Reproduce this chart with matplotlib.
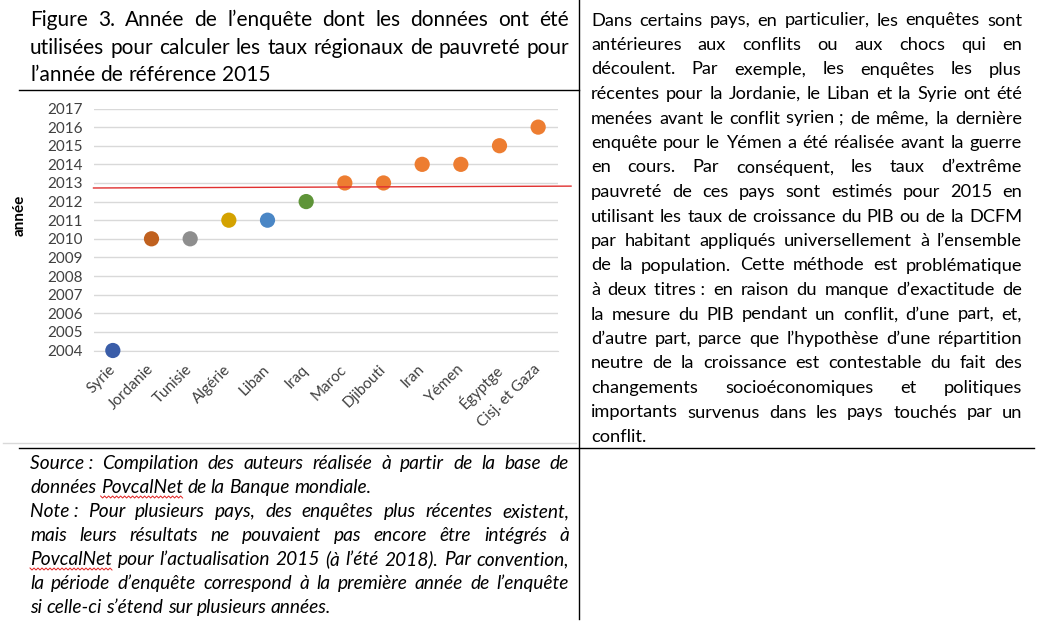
import numpy as np
import matplotlib
matplotlib.use('Agg')
import matplotlib.pyplot as plt
from matplotlib.lines import Line2D

# chart data
countries = ['Syrie', 'Jordanie', 'Tunisie', 'Algérie', 'Liban', 'Iraq', 'Maroc',
             'Djibouti', 'Iran', 'Yémen', 'Égyptge', 'Cisj. et Gaza']
years = [2004, 2010, 2010, 2011, 2011, 2012, 2013, 2013, 2014, 2014, 2015, 2016]
colors = ['#3A5DA8', '#C0611F', '#8E8E8E', '#D4A200', '#4A86C5', '#5E9438',
          '#ED7D31', '#ED7D31', '#ED7D31', '#ED7D31', '#ED7D31', '#ED7D31']
ref_line = [2012.73, 2012.83]

title_lines = ["Figure 3. Année de l’enquête dont les données ont été",
               "utilisées pour calculer les taux régionaux de pauvreté pour",
               "l’année de référence 2015"]
title_last = [False, False, True]

right_lines = ["Dans certains pays, en particulier, les enquêtes sont",
               "antérieures aux conflits ou aux chocs qui en",
               "découlent. Par exemple, les enquêtes les plus",
               "récentes pour la Jordanie, le Liban et la Syrie ont été",
               "menées avant le conflit syrien\u00a0; de même, la dernière",
               "enquête pour le Yémen a été réalisée avant la guerre",
               "en cours. Par conséquent, les taux d’extrême",
               "pauvreté de ces pays sont estimés pour 2015 en",
               "utilisant les taux de croissance du PIB ou de la DCFM",
               "par habitant appliqués universellement à l’ensemble",
               "de la population. Cette méthode est problématique",
               "à deux titres\u00a0: en raison du manque d’exactitude de",
               "la mesure du PIB pendant un conflit, d’une part, et,",
               "d’autre part, parce que l’hypothèse d’une répartition",
               "neutre de la croissance est contestable du fait des",
               "changements socioéconomiques et politiques",
               "importants survenus dans les pays touchés par un",
               "conflit."]
right_last = [False] * 17 + [True]

note_lines = ["Source\u00a0: Compilation des auteurs réalisée à partir de la base de",
              "données PovcalNet de la Banque mondiale.",
              "Note\u00a0: Pour plusieurs pays, des enquêtes plus récentes existent,",
              "mais leurs résultats ne pouvaient pas encore être intégrés à",
              "PovcalNet pour l’actualisation 2015 (à l’été 2018). Par convention,",
              "la période d’enquête correspond à la première année de l’enquête",
              "si celle-ci s’étend sur plusieurs années."]
note_last = [False, True, False, False, False, False, True]

W, H = 1039, 636
fig = plt.figure(figsize=(W / 100, H / 100), dpi=100)
renderer = fig.canvas.get_renderer()
FONT = 'Lato'


def fx(x):
    return x / W


def fy(y):
    return 1 - y / H


def hline(x0, x1, y, color='black', lw=1.0):
    fig.add_artist(Line2D([fx(x0), fx(x1)], [fy(y), fy(y)], color=color, lw=lw,
                          transform=fig.transFigure))


def vline(x, y0, y1, color='black', lw=1.0):
    fig.add_artist(Line2D([fx(x), fx(x)], [fy(y0), fy(y1)], color=color, lw=lw,
                          transform=fig.transFigure))


def text_width(s, size, style):
    t = fig.text(0, 0, s.replace('\u00a0', ' '), fontsize=size, family=FONT, style=style)
    w = t.get_window_extent(renderer).width
    t.remove()
    return w


def fit_size(lines, last, x0, x1, base, style):
    worst = max(text_width(l, base, style) for l, e in zip(lines, last) if not e)
    return base * 0.985 * (x1 - x0) / worst


def paragraph(lines, last, x0, x1, y0, step, size, style='normal'):
    # justified block: words spread to fill x0..x1, last line left-aligned
    placed = []
    space = text_width('a a', size, style) - text_width('aa', size, style)
    for i, (line, end) in enumerate(zip(lines, last)):
        yb = y0 + i * step
        words = line.split(' ')
        texts = [fig.text(0, fy(yb), w.replace('\u00a0', ' '), fontsize=size,
                          family=FONT, style=style, va='baseline', ha='left',
                          color='black') for w in words]
        widths = [t.get_window_extent(renderer).width for t in texts]
        if end or len(words) == 1:
            gap = space
        else:
            gap = (x1 - x0 - sum(widths)) / (len(words) - 1)
        x = x0
        for t, w, word in zip(texts, widths, words):
            t.set_x(fx(x))
            placed.append((word, x, x + w, yb))
            x += w + gap
    return placed


def squiggle(xa, xb, yb):
    xs = np.arange(xa, xb + 0.1, 2.0)
    ys = yb + 4 + np.where(np.arange(len(xs)) % 2 == 0, -1.0, 1.0)
    fig.add_artist(Line2D(fx(xs), fy(ys), color='#E02020', lw=0.7,
                          transform=fig.transFigure))


# title
ts = fit_size(title_lines, title_last, 30, 569, 12, 'normal')
paragraph(title_lines, title_last, 30, 569, 26, 27.5, ts)

# right column text
rs = fit_size(right_lines, right_last, 591, 1022, 11, 'normal')
paragraph(right_lines, right_last, 591, 1022, 25.5, 24.5, rs)

# notes
ns = fit_size(note_lines, note_last, 30, 569, 11, 'italic')
placed = paragraph(note_lines, note_last, 30, 569, 469, 24, ns, 'italic')
for word, xa, xb, yb in placed:
    if word == 'PovcalNet':
        squiggle(xa, xb, yb)

# table borders
vline(579, 0, 619)
hline(19, 579, 90)
hline(19, 1034, 448)
hline(3, 576, 443, color='#D9D9D9')

# chart
ax = fig.add_axes([fx(93.5), fy(350.5), (557.5 - 93.5) / W, (350.5 - 108.5) / H])
x = np.arange(len(countries))
ax.scatter(x, years, s=120, c=colors, zorder=3, clip_on=False, linewidths=0)
ax.plot([-0.5, 11.85], ref_line, color='#E03030', lw=1.0, clip_on=False, zorder=4)
ax.set_xlim(-0.5, 11.5)
ax.set_ylim(2004, 2017)
ax.set_yticks(range(2004, 2018))
ax.set_yticklabels([str(v) for v in range(2004, 2018)], family=FONT, fontsize=11,
                   color='#404040')
ax.set_xticks(x)
ax.set_xticklabels(countries, rotation=45, ha='right', va='center',
                   rotation_mode='anchor', family=FONT, fontsize=11, color='#404040')
ax.tick_params(axis='y', length=0, pad=8)
ax.tick_params(axis='x', length=0, pad=12)
ax.grid(axis='y', color='#D9D9D9', lw=1.0)
ax.set_axisbelow(True)
for side in ['top', 'right', 'left']:
    ax.spines[side].set_visible(False)
ax.spines['bottom'].set_color('#D9D9D9')
fig.text(fx(20), fy(215), 'année', rotation=90, ha='center', va='center',
         family=FONT, fontsize=11, fontweight='bold', color='black')

fig.savefig('out.png', dpi=100)
